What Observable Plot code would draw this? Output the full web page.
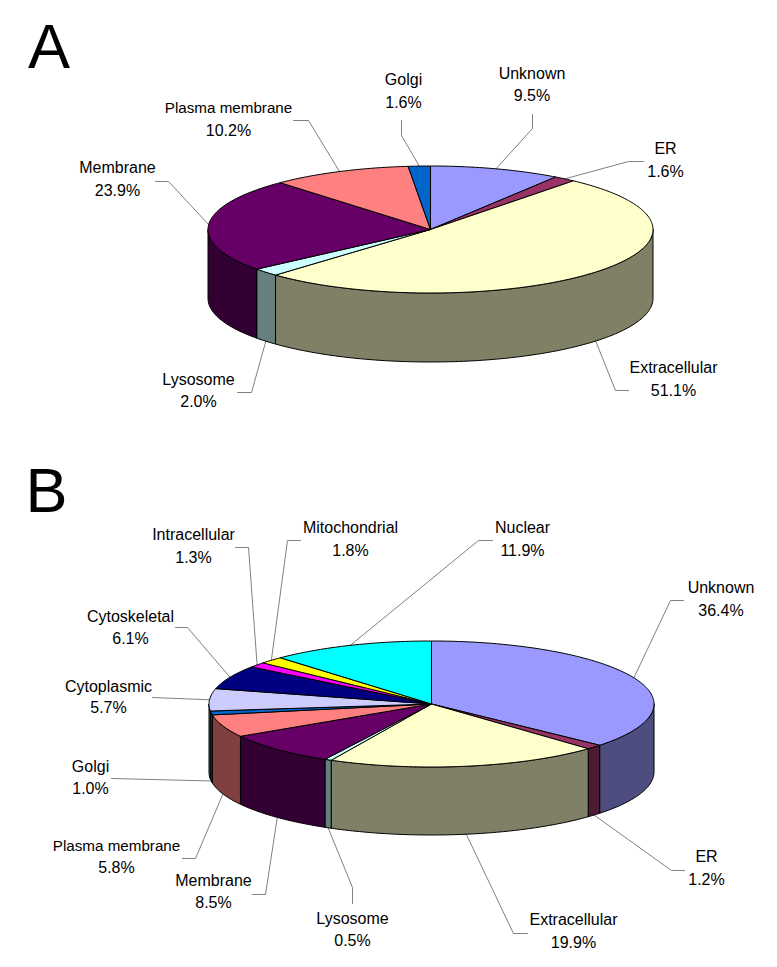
<!DOCTYPE html>
<html>
<head>
<meta charset="utf-8">
<style>html,body{margin:0;padding:0;background:#fff}svg{display:block}</style>
<script src="https://cdn.jsdelivr.net/npm/d3@7"></script>
<script src="https://cdn.jsdelivr.net/npm/@observablehq/plot@0.6"></script>
</head>
<body>
<div id="chart"></div>
<script>
// Panel A data
const namesA = ["Unknown","ER","Extracellular","Lysosome","Membrane","Plasma membrane","Golgi"];
const valuesA = [9.5,1.6,51.1,2.0,23.9,10.2,1.6];
const colorsA = ["#9999FF","#993366","#FFFFCC","#CCFFFF","#660066","#FF8080","#0066CC"];

// Panel B data
const namesB = ["Unknown","ER","Extracellular","Lysosome","Membrane","Plasma membrane","Golgi","Cytoplasmic","Cytoskeletal","Intracellular","Mitochondrial","Nuclear"];
const valuesB = [36.4,1.2,19.9,0.5,8.5,5.8,1.0,5.7,6.1,1.3,1.8,11.9];
const colorsB = ["#9999FF","#993366","#FFFFCC","#CCFFFF","#660066","#FF8080","#0066CC","#CCCCFF","#000080","#FF00FF","#FFFF00","#00FFFF"];

// Pie placement on the page
const pieA = {cx:430, cy:229, rx:222.5, ry:63.5, depth:69};
const pieB = {cx:431, cy:703.5, rx:222.5, ry:63, depth:68};

// Label placement: text centre x, first and second baselines, then leader elbow path (outer end, elbow)
const placeA = [
  [531.5,78,100,[[532,114],[532,128]]],
  [665,153,176,[[643,161],[628,161]]],
  [673,372,395,[[628,390],[615,390]]],
  [198,384,406,[[237,392],[251,392]]],
  [117,172,195,[[155,181],[168,181]]],
  [228,112,135,[[293,120],[308,120]]],
  [403,84,107,[[401,120],[401,135]]]
];
const placeB = [
  [720.5,592,615,[[683,600],[670,600]]],
  [706,861,884,[[684,870],[671,870]]],
  [573,924,947,[[527,933],[513,933]]],
  [352,923,945,[[352,903],[352,887]]],
  [213,885,907,[[252,894],[265,894]]],
  [116,850,872,[[182,858],[195,858]]],
  [90,771,793,[[111,778]]],
  [108,691,712,[[152,697]]],
  [130,621,643,[[175,627],[187,627]]],
  [193,539,562,[[235,547],[248,547]]],
  [350,532,555,[[300,540],[287,540]]],
  [522,532,555,[[492,540],[478,540]]]
];

const half = c => { const r = d3.rgb(c); return d3.rgb(r.r/2, r.g/2, r.b/2).formatHex(); };

function build(names, values, colors, pie, place, tag) {
  const total = d3.sum(values);
  const rad = a => a * Math.PI / 180;
  const top = a => ({x: pie.cx + pie.rx * Math.sin(rad(a)), y: pie.cy - pie.ry * Math.cos(rad(a))});
  const low = a => { const p = top(a); return {x: p.x, y: p.y + pie.depth}; };
  const sweep = (a0, a1) => {
    const n = Math.max(2, Math.ceil((a1 - a0) / 1));
    return d3.range(n + 1).map(i => a0 + (a1 - a0) * i / n);
  };
  const walls = [], tops = [], leaders = [], labels = [];
  let acc = 0;
  values.forEach((v, i) => {
    const a0 = acc / total * 360;
    acc += v;
    const a1 = acc / total * 360;
    const mid = (a0 + a1) / 2;
    // outer wall, front half only
    const w0 = Math.max(a0, 90), w1 = Math.min(a1, 270);
    if (w1 > w0) {
      const arc = sweep(w0, w1);
      const pts = [...arc.map(top), ...arc.slice().reverse().map(low)];
      pts.push(pts[0]);
      pts.forEach(p => walls.push({...p, id: `${tag}w${i}`, fill: half(colors[i])}));
    }
    // top face
    const pts = [{x: pie.cx, y: pie.cy}, ...sweep(a0, a1).map(top), {x: pie.cx, y: pie.cy}];
    pts.forEach(p => tops.push({...p, id: `${tag}t${i}`, fill: colors[i]}));
    // leader ends on the slice's mid angle
    const anchor = mid > 90 && mid < 270 ? low(mid) : top(mid);
    const [tx, b1, b2, path] = place[i];
    [...path.map(([x, y]) => ({x, y})), anchor].forEach(p => leaders.push({...p, id: `${tag}l${i}`}));
    labels.push({x: tx, y: b1, text: names[i]});
    labels.push({x: tx, y: b2, text: v.toFixed(1) + "%"});
  });
  return {walls, tops, leaders, labels};
}

const A = build(namesA, valuesA, colorsA, pieA, placeA, "A");
const B = build(namesB, valuesB, colorsB, pieB, placeB, "B");
const panelLetters = [{x:27.5, y:67.5, text:"A"},{x:25, y:511.5, text:"B"}];

const font = "'Liberation Sans', Arial, sans-serif";
const faces = (rows) => Plot.line(rows, {x:"x", y:"y", z:"id", fill:"fill", stroke:"#000", strokeWidth:1, strokeLinejoin:"round", curve:"linear"});
const allLabels = [...A.labels, ...B.labels];
const isLong = d => d.text.includes(" ");
const labelMark = (rows, size) => Plot.text(rows, {x:"x", y:"y", text:"text", fontSize:size, lineAnchor:"bottom", textAnchor:"middle", fill:"#000", fontFamily:font});

const chart = Plot.plot({
  width: 777, height: 967,
  margin: 0,
  style: {background:"#fff", fontFamily: font},
  x: {domain:[0,777], range:[0,777], axis:null},
  y: {domain:[0,967], range:[0,967], axis:null},
  color: {type:"identity"},
  marks: [
    Plot.line([...A.leaders, ...B.leaders], {x:"x", y:"y", z:"id", stroke:"#808080", strokeWidth:1, curve:"linear"}),
    faces([...A.walls, ...B.walls]),
    faces([...A.tops, ...B.tops]),
    labelMark(allLabels.filter(d => !isLong(d)), 16),
    labelMark(allLabels.filter(isLong), 15.2),
    Plot.text(panelLetters, {x:"x", y:"y", text:"text", fontSize:63, lineAnchor:"bottom", textAnchor:"start", fill:"#000", fontFamily:font})
  ]
});
document.getElementById("chart").appendChild(chart);
</script>
</body>
</html>
